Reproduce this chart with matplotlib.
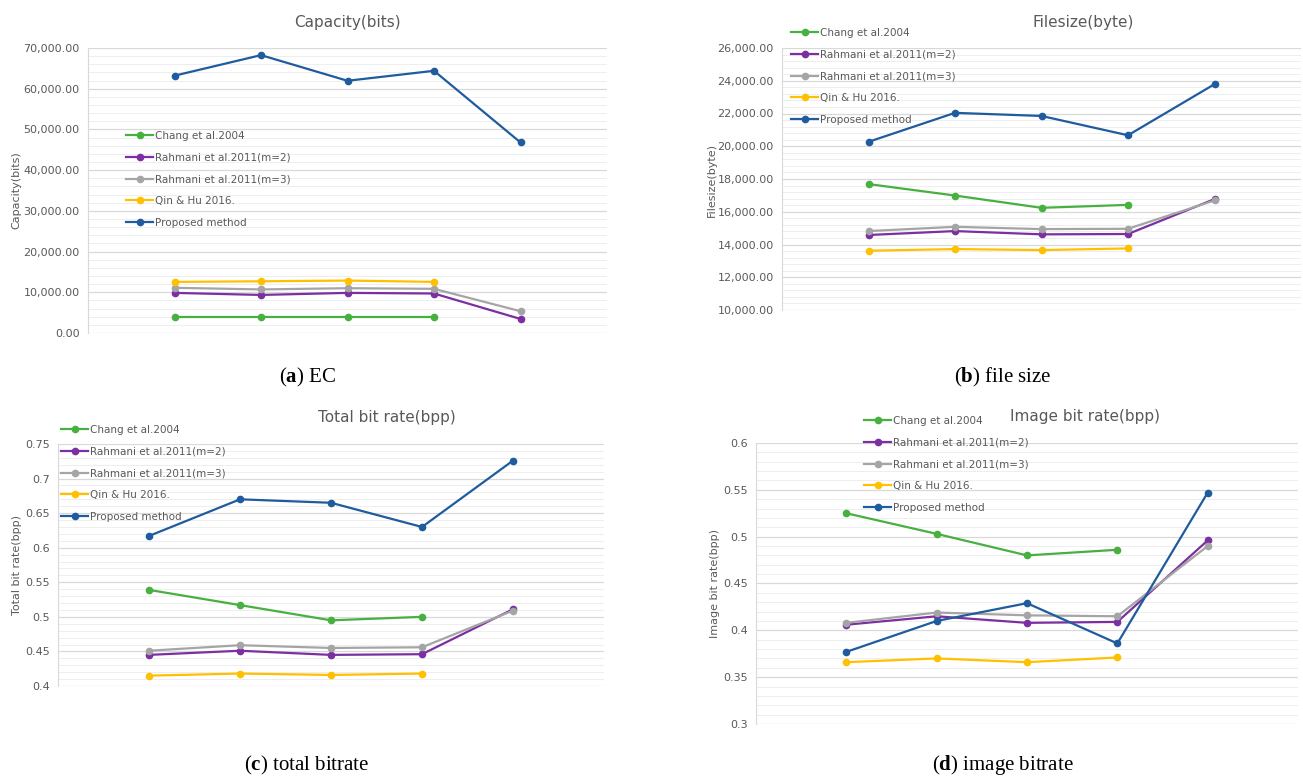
import matplotlib
matplotlib.use('Agg')
import matplotlib.pyplot as plt
from matplotlib.ticker import MultipleLocator, FuncFormatter

# image index on x axis (no labels shown)
images = [1, 2, 3, 4, 5]

names = ['Chang et al.2004', 'Rahmani et al.2011(m=2)', 'Rahmani et al.2011(m=3)',
         'Qin & Hu 2016.', 'Proposed method']
colors = ['#48B040', '#7B2FA2', '#A5A5A5', '#FFC000', '#1F5C9E']

# (a) capacity in bits
cap_chang = [3860, 3860, 3860, 3860]
cap_rah2 = [9850, 9350, 9850, 9700, 3450]
cap_rah3 = [11100, 10700, 11000, 10850, 5350]
cap_qin = [12550, 12700, 12880, 12550]
cap_prop = [63200, 68250, 61950, 64400, 46800]

# (b) file size in bytes
fs_chang = [17690, 16990, 16240, 16420]
fs_rah2 = [14580, 14820, 14620, 14640, 16770]
fs_rah3 = [14820, 15080, 14940, 14960, 16690]
fs_qin = [13620, 13720, 13660, 13760]
fs_prop = [20270, 22040, 21850, 20670, 23790]

# (c) total bit rate
tb_chang = [0.539, 0.517, 0.495, 0.500]
tb_rah2 = [0.445, 0.451, 0.445, 0.446, 0.511]
tb_rah3 = [0.451, 0.459, 0.455, 0.456, 0.509]
tb_qin = [0.415, 0.418, 0.416, 0.418]
tb_prop = [0.617, 0.670, 0.665, 0.630, 0.726]

# (d) image bit rate
ib_chang = [0.525, 0.503, 0.480, 0.486]
ib_rah2 = [0.406, 0.415, 0.408, 0.409, 0.496]
ib_rah3 = [0.408, 0.419, 0.416, 0.415, 0.490]
ib_qin = [0.366, 0.370, 0.366, 0.371]
ib_prop = [0.377, 0.410, 0.429, 0.386, 0.547]

plt.rcParams['font.family'] = ['Liberation Sans Narrow', 'DejaVu Sans']
plt.rcParams['mathtext.fontset'] = 'custom'
plt.rcParams['mathtext.rm'] = 'Liberation Serif'
plt.rcParams['mathtext.bf'] = 'Liberation Serif:bold'

gray = '#595959'
fig = plt.figure(figsize=(13.03, 7.81), dpi=100)

W, H = 1303.0, 781.0


def make_ax(left, right, top, bottom):
    return fig.add_axes([left / W, 1 - bottom / H, (right - left) / W, (bottom - top) / H])


def draw(ax, series, ylim, major, minor, fmt, title, title_xy, ylabel, ylabel_xy, leg_xy):
    for vals, name, c in zip(series, names, colors):
        ax.plot(images[:len(vals)], vals, color=c, lw=1.6, marker='o', ms=4.5, label=name, zorder=3)
    ax.set_xlim(0, 6)
    ax.set_ylim(*ylim)
    ax.set_xticks([])
    ax.yaxis.set_major_locator(MultipleLocator(major))
    ax.yaxis.set_minor_locator(MultipleLocator(minor))
    ax.yaxis.set_major_formatter(FuncFormatter(fmt))
    ax.grid(axis='y', which='major', color='#D9D9D9', lw=0.9)
    ax.grid(axis='y', which='minor', color='#EEEEEE', lw=0.7)
    ax.set_axisbelow(True)
    for s in ['top', 'right', 'bottom']:
        ax.spines[s].set_visible(False)
    ax.spines['left'].set_color('#D9D9D9')
    ax.tick_params(axis='y', which='both', length=0, labelsize=8, labelcolor=gray, pad=6)
    fig.text(title_xy[0] / W, 1 - title_xy[1] / H, title, ha='center', va='center',
             fontsize=11, color=gray)
    fig.text(ylabel_xy[0] / W, 1 - ylabel_xy[1] / H, ylabel, ha='center', va='center',
             rotation=90, fontsize=8, color=gray, family=['DejaVu Sans'])
    ax.legend(loc='upper left', bbox_to_anchor=(leg_xy[0] / W, 1 - leg_xy[1] / H),
              bbox_transform=fig.transFigure, frameon=False, fontsize=7.5,
              handlelength=2.6, handletextpad=0.15, labelspacing=1.12,
              borderpad=0, borderaxespad=0, labelcolor=gray)


def thousands(v, p):
    return '{:,.2f}'.format(v)


def plain(v, p):
    return '{:g}'.format(round(v, 3))


ax_a = make_ax(88, 607, 48, 333)
draw(ax_a, [cap_chang, cap_rah2, cap_rah3, cap_qin, cap_prop], (0, 70000), 10000, 2000,
     thousands, 'Capacity(bits)', (347, 22), 'Capacity(bits)', (16, 190), (126, 131))

ax_b = make_ax(782, 1301, 48, 310)
draw(ax_b, [fs_chang, fs_rah2, fs_rah3, fs_qin, fs_prop], (10000, 26000), 2000, 400,
     thousands, 'Filesize(byte)', (1083, 22), 'Filesize(byte)', (712, 180), (791, 28))

ax_c = make_ax(58, 604, 444, 686)
draw(ax_c, [tb_chang, tb_rah2, tb_rah3, tb_qin, tb_prop], (0.4, 0.75), 0.05, 0.01,
     plain, 'Total bit rate(bpp)', (387, 418), 'Total bit rate(bpp)', (17, 565), (61, 425))

ax_d = make_ax(756, 1298, 443, 724)
draw(ax_d, [ib_chang, ib_rah2, ib_rah3, ib_qin, ib_prop], (0.3, 0.6), 0.05, 0.01,
     plain, 'Image bit rate(bpp)', (1085, 417), 'Image bit rate(bpp)', (715, 583), (864, 416))

captions = [(r'($\mathbf{a}$) EC', 308, 377), (r'($\mathbf{b}$) file size', 1003, 377),
            (r'($\mathbf{c}$) total bitrate', 307, 765), (r'($\mathbf{d}$) image bitrate', 1003, 765)]
for txt, cx, cy in captions:
    fig.text(cx / W, 1 - cy / H, txt, ha='center', va='center', fontsize=15,
             family=['Liberation Serif'])

fig.savefig('out.png', dpi=100)
